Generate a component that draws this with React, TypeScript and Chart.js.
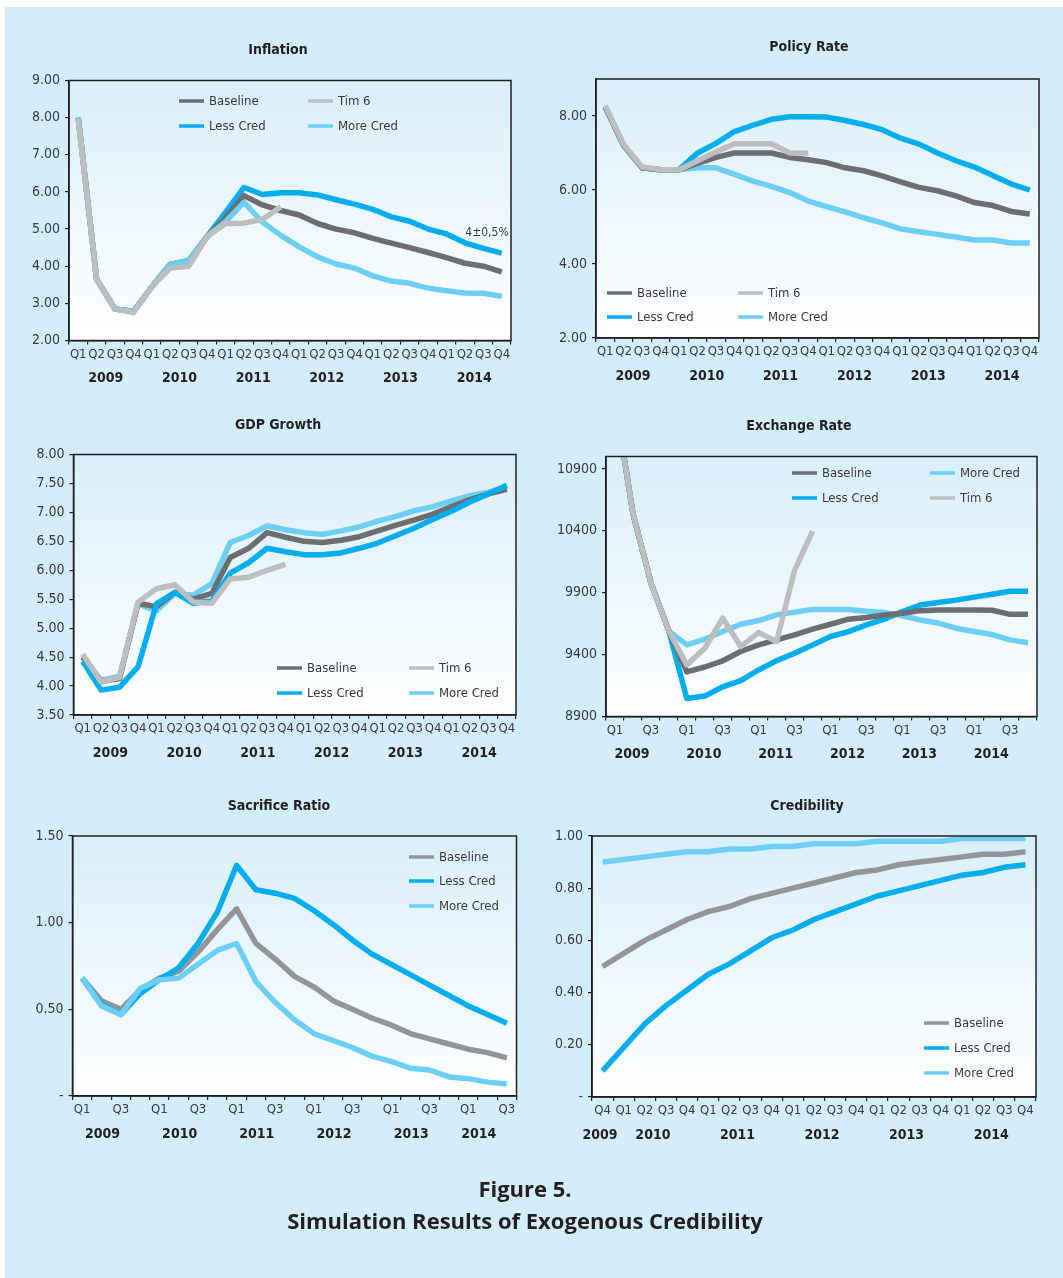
import React, { useEffect, useRef } from 'react';
import { Chart, registerables } from 'chart.js';

Chart.register(...registerables);

const PAGE_W = 1063;
const PAGE_H = 1278;

// ---------------- data ----------------
const quarters24 = ['Q1', 'Q2', 'Q3', 'Q4', 'Q1', 'Q2', 'Q3', 'Q4', 'Q1', 'Q2', 'Q3', 'Q4', 'Q1', 'Q2', 'Q3', 'Q4', 'Q1', 'Q2', 'Q3', 'Q4', 'Q1', 'Q2', 'Q3', 'Q4'];
const quarters23 = ['Q1', 'Q2', 'Q3', 'Q4', 'Q1', 'Q2', 'Q3', 'Q4', 'Q1', 'Q2', 'Q3', 'Q4', 'Q1', 'Q2', 'Q3', 'Q4', 'Q1', 'Q2', 'Q3', 'Q4', 'Q1', 'Q2', 'Q3'];
const quartersCred = ['Q4', 'Q1', 'Q2', 'Q3', 'Q4', 'Q1', 'Q2', 'Q3', 'Q4', 'Q1', 'Q2', 'Q3', 'Q4', 'Q1', 'Q2', 'Q3', 'Q4', 'Q1', 'Q2', 'Q3', 'Q4'];
const years = ['2009', '2010', '2011', '2012', '2013', '2014'];
const yearGroups24 = [4, 4, 4, 4, 4, 4];
const yearGroups23 = [4, 4, 4, 4, 4, 3];
const yearGroupsCred = [1, 4, 4, 4, 4, 4];

const inflationTicks = [2, 3, 4, 5, 6, 7, 8, 9];
const inflationBaseline = [8.0, 3.65, 2.85, 2.78, 3.45, 4.05, 4.15, 4.8, 5.3, 5.9, 5.65, 5.5, 5.38, 5.15, 5.0, 4.9, 4.75, 4.62, 4.5, 4.37, 4.23, 4.08, 4.0, 3.85];
const inflationLessCred = [8.0, 3.65, 2.85, 2.78, 3.45, 4.05, 4.15, 4.8, 5.45, 6.12, 5.93, 5.98, 5.98, 5.92, 5.79, 5.67, 5.53, 5.33, 5.21, 5.0, 4.87, 4.63, 4.48, 4.35];
const inflationMoreCred = [8.0, 3.65, 2.85, 2.78, 3.45, 4.05, 4.15, 4.8, 5.2, 5.72, 5.19, 4.83, 4.52, 4.25, 4.06, 3.95, 3.74, 3.6, 3.54, 3.41, 3.34, 3.28, 3.27, 3.19];
const inflationTim6 = [7.95, 3.65, 2.85, 2.75, 3.45, 3.95, 4.0, 4.8, 5.15, 5.16, 5.26, 5.6, null, null, null, null, null, null, null, null, null, null, null, null];
const inflationNote = '4±0,5%';

const policyTicks = [2, 4, 6, 8];
const policyBaseline = [8.25, 7.2, 6.6, 6.55, 6.55, 6.72, 6.88, 7.0, 7.0, 7.0, 6.88, 6.82, 6.74, 6.6, 6.52, 6.38, 6.22, 6.07, 5.98, 5.84, 5.66, 5.58, 5.42, 5.35];
const policyLessCred = [8.25, 7.2, 6.6, 6.55, 6.55, 7.0, 7.26, 7.58, 7.75, 7.91, 7.98, 7.98, 7.97, 7.88, 7.77, 7.63, 7.4, 7.24, 7.0, 6.79, 6.62, 6.39, 6.16, 6.0];
const policyMoreCred = [8.25, 7.2, 6.6, 6.55, 6.55, 6.6, 6.6, 6.42, 6.24, 6.1, 5.93, 5.7, 5.55, 5.41, 5.25, 5.11, 4.95, 4.87, 4.8, 4.73, 4.65, 4.65, 4.57, 4.57];
const policyTim6 = [8.28, 7.22, 6.62, 6.55, 6.55, 6.79, 7.03, 7.25, 7.25, 7.25, 7.0, 7.0, null, null, null, null, null, null, null, null, null, null, null, null];

const gdpTicks = [3.5, 4, 4.5, 5, 5.5, 6, 6.5, 7, 7.5, 8];
const gdpBaseline = [4.5, 4.08, 4.13, 5.43, 5.37, 5.62, 5.5, 5.6, 6.22, 6.38, 6.65, 6.57, 6.5, 6.48, 6.52, 6.58, 6.68, 6.78, 6.87, 6.97, 7.1, 7.22, 7.32, 7.4];
const gdpLessCred = [4.43, 3.93, 3.98, 4.33, 5.42, 5.62, 5.43, 5.47, 5.95, 6.13, 6.38, 6.32, 6.27, 6.27, 6.3, 6.38, 6.47, 6.6, 6.73, 6.88, 7.02, 7.18, 7.32, 7.47];
const gdpMoreCred = [4.5, 4.1, 4.17, 5.42, 5.3, 5.6, 5.57, 5.77, 6.48, 6.6, 6.77, 6.7, 6.65, 6.62, 6.68, 6.75, 6.85, 6.93, 7.03, 7.1, 7.2, 7.29, 7.35, 7.45];
const gdpTim6 = [4.55, 4.07, 4.15, 5.45, 5.68, 5.75, 5.45, 5.43, 5.85, 5.88, 6.0, 6.1, null, null, null, null, null, null, null, null, null, null, null, null];

const exchangeTicks = [8900, 9400, 9900, 10400, 10900];
const exchangeBaseline = [11460, 10540, 9980, 9590, 9260, 9300, 9350, 9425, 9478, 9519, 9560, 9605, 9645, 9686, 9700, 9720, 9734, 9755, 9760, 9760, 9760, 9758, 9725, 9725];
const exchangeLessCred = [11460, 10540, 9980, 9590, 9045, 9065, 9140, 9190, 9276, 9351, 9411, 9478, 9546, 9586, 9640, 9686, 9748, 9800, 9821, 9840, 9864, 9888, 9912, 9912];
const exchangeMoreCred = [11460, 10540, 9980, 9590, 9478, 9524, 9586, 9645, 9675, 9721, 9743, 9765, 9765, 9765, 9750, 9740, 9713, 9680, 9655, 9613, 9586, 9562, 9519, 9495];
const exchangeTim6 = [11460, 10540, 9980, 9590, 9316, 9451, 9694, 9465, 9578, 9505, 10080, 10395, null, null, null, null, null, null, null, null, null, null, null, null];

const sacrificeTicks = [0, 0.5, 1.0, 1.5];
const sacrificeBaseline = [0.68, 0.55, 0.5, 0.61, 0.68, 0.72, 0.83, 0.96, 1.08, 0.88, 0.79, 0.69, 0.63, 0.55, 0.5, 0.45, 0.41, 0.36, 0.33, 0.3, 0.27, 0.25, 0.22];
const sacrificeLessCred = [0.68, 0.53, 0.47, 0.59, 0.67, 0.74, 0.88, 1.06, 1.33, 1.19, 1.17, 1.14, 1.07, 0.99, 0.9, 0.82, 0.76, 0.7, 0.64, 0.58, 0.52, 0.47, 0.42];
const sacrificeMoreCred = [0.68, 0.52, 0.47, 0.62, 0.67, 0.68, 0.76, 0.84, 0.88, 0.66, 0.54, 0.44, 0.36, 0.32, 0.28, 0.23, 0.2, 0.16, 0.15, 0.11, 0.1, 0.08, 0.07];

const credibilityTicks = [0, 0.2, 0.4, 0.6, 0.8, 1.0];
const credibilityBaseline = [0.5, 0.55, 0.6, 0.64, 0.68, 0.71, 0.73, 0.76, 0.78, 0.8, 0.82, 0.84, 0.86, 0.87, 0.89, 0.9, 0.91, 0.92, 0.93, 0.93, 0.94];
const credibilityLessCred = [0.1, 0.19, 0.28, 0.35, 0.41, 0.47, 0.51, 0.56, 0.61, 0.64, 0.68, 0.71, 0.74, 0.77, 0.79, 0.81, 0.83, 0.85, 0.86, 0.88, 0.89];
const credibilityMoreCred = [0.9, 0.91, 0.92, 0.93, 0.94, 0.94, 0.95, 0.95, 0.96, 0.96, 0.97, 0.97, 0.97, 0.98, 0.98, 0.98, 0.98, 0.99, 0.99, 0.99, 0.99];

// ---------------- styles ----------------
const FONT = "'DejaVu Sans Condensed', Roboto, sans-serif";
const C_BASE = '#6d6e71';
const C_BASE2 = '#939598';
const C_TIM = '#bcbec0';
const C_LESS = '#00aeef';
const C_MORE = '#6dcff6';
const C_AXIS = '#231f20';
const C_TEXT = '#3a3a3c';
const BG = '#d3eefa';

const Y_W = 60;
const X_H = 50;

const fmt2 = (v: number) => v.toFixed(2);
const fmtDash = (v: number) => (v === 0 ? '-' : v.toFixed(2));
const fmtInt = (v: number) => String(v);

const panels = [
  {
    title: 'Inflation', titleX: 278, titleY: 50,
    area: { left: 69, top: 80.5, right: 511, bottom: 340.5 },
    labels: quarters24, every: 1, yearGroups: yearGroups24, yearShift: 0,
    yMin: 2, yMax: 9, ticks: inflationTicks, fmt: fmt2,
    series: [
      { label: 'Baseline', data: inflationBaseline, color: C_BASE, order: 2 },
      { label: 'Tim 6', data: inflationTim6, color: C_TIM, order: 0 },
      { label: 'Less Cred', data: inflationLessCred, color: C_LESS, order: 3 },
      { label: 'More Cred', data: inflationMoreCred, color: C_MORE, order: 1 },
    ],
    legendX: [179, 308], legendY: [101, 126],
    note: { text: inflationNote, x: 487, y: 233 },
  },
  {
    title: 'Policy Rate', titleX: 809, titleY: 47,
    area: { left: 596, top: 79, right: 1039, bottom: 338 },
    labels: quarters24, every: 1, yearGroups: yearGroups24, yearShift: 0,
    yMin: 2, yMax: 9, ticks: policyTicks, fmt: fmt2,
    series: [
      { label: 'Baseline', data: policyBaseline, color: C_BASE, order: 1 },
      { label: 'Tim 6', data: policyTim6, color: C_TIM, order: 0 },
      { label: 'Less Cred', data: policyLessCred, color: C_LESS, order: 3 },
      { label: 'More Cred', data: policyMoreCred, color: C_MORE, order: 2 },
    ],
    legendX: [607, 738], legendY: [293, 317],
  },
  {
    title: 'GDP Growth', titleX: 278, titleY: 425,
    area: { left: 73.5, top: 454.5, right: 516, bottom: 715 },
    labels: quarters24, every: 1, yearGroups: yearGroups24, yearShift: 0,
    yMin: 3.5, yMax: 8, ticks: gdpTicks, fmt: fmt2,
    series: [
      { label: 'Baseline', data: gdpBaseline, color: C_BASE, order: 2 },
      { label: 'Tim 6', data: gdpTim6, color: C_TIM, order: 0 },
      { label: 'Less Cred', data: gdpLessCred, color: C_LESS, order: 1 },
      { label: 'More Cred', data: gdpMoreCred, color: C_MORE, order: 3 },
    ],
    legendX: [277, 409], legendY: [668, 693],
  },
  {
    title: 'Exchange Rate', titleX: 799, titleY: 426.5,
    area: { left: 606, top: 456.5, right: 1037, bottom: 716.5 },
    labels: quarters24, every: 2, yearGroups: yearGroups24, yearShift: -0.55,
    yMin: 8900, yMax: 11000, ticks: exchangeTicks, fmt: fmtInt,
    series: [
      { label: 'Baseline', data: exchangeBaseline, color: C_BASE, order: 1 },
      { label: 'More Cred', data: exchangeMoreCred, color: C_MORE, order: 3 },
      { label: 'Less Cred', data: exchangeLessCred, color: C_LESS, order: 2 },
      { label: 'Tim 6', data: exchangeTim6, color: C_TIM, order: 0 },
    ],
    legendX: [792, 930], legendY: [473, 498],
  },
  {
    title: 'Sacrifice Ratio', titleX: 279, titleY: 806,
    area: { left: 72.5, top: 836, right: 516.5, bottom: 1096 },
    labels: quarters23, every: 2, yearGroups: yearGroups23, yearShift: -0.45,
    yMin: 0, yMax: 1.5, ticks: sacrificeTicks, fmt: fmtDash,
    series: [
      { label: 'Baseline', data: sacrificeBaseline, color: C_BASE2, order: 2 },
      { label: 'Less Cred', data: sacrificeLessCred, color: C_LESS, order: 1 },
      { label: 'More Cred', data: sacrificeMoreCred, color: C_MORE, order: 0 },
    ],
    legendX: [409], legendY: [857, 881, 906],
  },
  {
    title: 'Credibility', titleX: 807, titleY: 806.5,
    area: { left: 592, top: 836, right: 1036, bottom: 1097 },
    labels: quartersCred, every: 1, yearGroups: yearGroupsCred, yearShift: -0.12,
    yMin: 0, yMax: 1.0, ticks: credibilityTicks, fmt: fmtDash,
    series: [
      { label: 'Baseline', data: credibilityBaseline, color: C_BASE2, order: 1 },
      { label: 'Less Cred', data: credibilityLessCred, color: C_LESS, order: 0 },
      { label: 'More Cred', data: credibilityMoreCred, color: C_MORE, order: 2 },
    ],
    legendX: [924], legendY: [1023, 1048, 1073],
  },
];

function makeDecor(p: any) {
  return {
    id: 'panelDecor',
    beforeDraw(chart: any) {
      const { ctx, chartArea: a } = chart;
      const g = ctx.createLinearGradient(0, a.top, 0, a.bottom);
      g.addColorStop(0, '#d9effb');
      g.addColorStop(1, '#ffffff');
      ctx.save();
      ctx.fillStyle = g;
      ctx.fillRect(a.left, a.top, a.right - a.left, a.bottom - a.top);
      ctx.restore();
    },
    afterDatasetsDraw(chart: any) {
      const { ctx, chartArea: a } = chart;
      ctx.save();
      ctx.strokeStyle = C_AXIS;
      ctx.lineWidth = 1.5;
      ctx.strokeRect(a.left, a.top, a.right - a.left, a.bottom - a.top);
      ctx.restore();
    },
    afterDraw(chart: any) {
      const { ctx, chartArea: a } = chart;
      const xs = chart.scales.x;
      ctx.save();
      // title
      ctx.fillStyle = C_AXIS;
      ctx.font = `bold 14px ${FONT}`;
      ctx.textAlign = 'center';
      ctx.textBaseline = 'middle';
      ctx.fillText(p.title, p.titleX, p.titleY);
      // year labels
      ctx.font = `bold 14px ${FONT}`;
      let start = 0;
      const w = xs.getPixelForValue(1) - xs.getPixelForValue(0);
      p.yearGroups.forEach((n: number, i: number) => {
        const x0 = xs.getPixelForValue(start);
        const x1 = xs.getPixelForValue(start + n - 1);
        const cx = (x0 + x1) / 2 + p.yearShift * w;
        ctx.fillText(years[i], cx, a.bottom + 38);
        start += n;
      });
      // legend
      ctx.font = `13px ${FONT}`;
      ctx.textAlign = 'left';
      const cols = p.legendX.length;
      p.series.forEach((s: any, i: number) => {
        const lx = p.legendX[i % cols];
        const ly = p.legendY[Math.floor(i / cols)];
        ctx.strokeStyle = s.color;
        ctx.lineWidth = 3.5;
        ctx.beginPath();
        ctx.moveTo(lx, ly);
        ctx.lineTo(lx + 25, ly);
        ctx.stroke();
        ctx.fillStyle = C_TEXT;
        ctx.fillText(s.label, lx + 30, ly + 0.5);
      });
      if (p.note) {
        ctx.font = `12px ${FONT}`;
        ctx.textAlign = 'center';
        ctx.fillStyle = C_TEXT;
        ctx.fillText(p.note.text, p.note.x, p.note.y);
      }
      ctx.restore();
    },
  };
}

function Panel({ p }: { p: any }) {
  const ref = useRef<HTMLCanvasElement>(null);
  useEffect(() => {
    const a = p.area;
    const chart = new Chart(ref.current as HTMLCanvasElement, {
      type: 'line',
      data: {
        labels: p.labels,
        datasets: p.series.map((s: any) => ({
          label: s.label,
          data: s.data,
          borderColor: s.color,
          backgroundColor: s.color,
          order: s.order,
          borderWidth: 5.5,
          pointRadius: 0,
          tension: 0,
          borderJoinStyle: 'round',
          borderCapStyle: 'butt',
          spanGaps: false,
        })),
      },
      options: {
        responsive: false,
        animation: false,
        devicePixelRatio: 1,
        events: [],
        layout: {
          padding: {
            left: a.left - Y_W,
            top: a.top,
            right: PAGE_W - a.right,
            bottom: PAGE_H - a.bottom - X_H,
          },
        },
        plugins: { legend: { display: false }, tooltip: { enabled: false }, title: { display: false } },
        scales: {
          x: {
            type: 'category',
            offset: true,
            grid: { display: true, offset: true, drawOnChartArea: false, drawTicks: true, tickLength: 4, color: C_AXIS, lineWidth: 1.2 },
            border: { display: true, color: C_AXIS, width: 1.5 },
            ticks: {
              autoSkip: false, maxRotation: 0, minRotation: 0, padding: 2, color: C_TEXT,
              font: { family: FONT, size: 13 },
              callback: (_v: any, i: number) => (i % p.every === 0 ? p.labels[i] : ''),
            },
            afterFit: (s: any) => { s.height = X_H; },
          },
          y: {
            type: 'linear',
            min: p.yMin,
            max: p.yMax,
            grid: { display: true, drawOnChartArea: false, drawTicks: true, tickLength: 4, color: C_AXIS, lineWidth: 1.2 },
            border: { display: true, color: C_AXIS, width: 1.5 },
            afterBuildTicks: (s: any) => { s.ticks = p.ticks.map((v: number) => ({ value: v })); },
            ticks: {
              padding: 5, color: C_TEXT,
              font: { family: FONT, size: 14 },
              callback: (v: any) => p.fmt(Number(v)),
            },
            afterFit: (s: any) => { s.width = Y_W; },
          },
        },
      },
      plugins: [makeDecor(p)],
    } as any);
    return () => chart.destroy();
  }, []);
  return (
    <canvas
      ref={ref}
      width={PAGE_W}
      height={PAGE_H}
      style={{ position: 'absolute', left: 0, top: 0, width: PAGE_W, height: PAGE_H }}
    />
  );
}

export default function App() {
  return (
    <div style={{ position: 'absolute', left: 0, top: 0, width: PAGE_W, height: PAGE_H, background: '#ffffff', overflow: 'hidden' }}>
      <div style={{ position: 'absolute', left: 5, top: 7, right: 0, bottom: 0, background: BG }} />
      {panels.map((p) => (
        <Panel key={p.title} p={p} />
      ))}
      <div style={{ position: 'absolute', left: 0, width: 1050, top: 1172, textAlign: 'center', fontFamily: "'Open Sans', sans-serif", fontWeight: 700, fontSize: 22, color: '#231f20', lineHeight: '32px' }}>
        <div>Figure 5.</div>
        <div>Simulation Results of Exogenous Credibility</div>
      </div>
    </div>
  );
}
